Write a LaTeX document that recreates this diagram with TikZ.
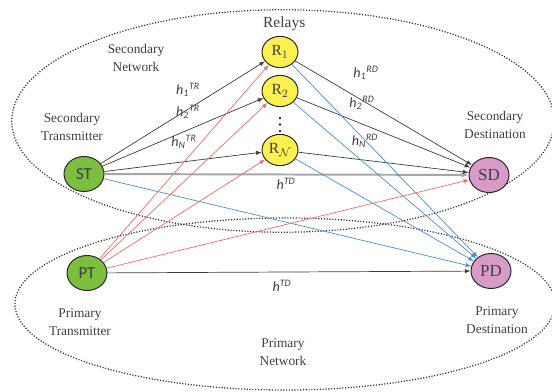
\documentclass[tikz,border=0pt]{standalone}
\usepackage{fontspec}
\setmainfont{Liberation Serif}
\setsansfont{Carlito}
\usepackage{tikz}
\usetikzlibrary{shapes.geometric, arrows.meta, positioning}
\definecolor{txtgray}{HTML}{404040}
\definecolor{lnkgray}{HTML}{3C3C3C}
\definecolor{lnkred}{HTML}{F26B6B}
\definecolor{lnkblue}{HTML}{4A8FD0}
\definecolor{tgreen}{HTML}{7DBE3F}
\definecolor{ryellow}{HTML}{FCF14E}
\definecolor{dpink}{HTML}{D89BC9}

\begin{document}
\begin{tikzpicture}[x=0.025cm, y=-0.025cm,
    term/.style={ellipse, draw=black!85, line width=0.7pt, minimum width=1cm, minimum height=0.875cm, inner sep=0pt, text=txtgray},
    relay/.style={term, fill=ryellow, minimum width=0.9cm, minimum height=0.78cm, font=\fontsize{11}{12}\selectfont},
    lbl/.style={text=txtgray, font=\fontsize{9.5}{12.5}\selectfont, align=center},
    chan/.style={text=txtgray, font=\sffamily\itshape\fontsize{10}{12}\selectfont},
    link/.style={-{Latex[length=4pt,width=3pt]}, line width=0.5pt}]
    \useasboundingbox (0,0) rectangle (552,392);%fixes page
    % =============== networks ====================
    \draw[dash pattern=on 0.8pt off 1.2pt, line width=0.9pt, black!80] (283,121) ellipse [x radius=6.78cm, y radius=2.78cm];%secondary network
    \draw[dash pattern=on 0.8pt off 1.2pt, line width=0.9pt, black!80] (285,304) ellipse [x radius=6.75cm, y radius=2.15cm];%primary network
    % =============== terminals ====================
    \node (ST) [term, fill=tgreen, font=\sffamily\fontsize{12}{12}\selectfont] at (84,174){ST};%draws ST
    \node (PT) [term, fill=tgreen, font=\sffamily\fontsize{12}{12}\selectfont] at (87,273){PT};%draws PT
    \node (SD) [term, fill=dpink, font=\fontsize{12}{12}\selectfont] at (489,175){SD};%draws SD
    \node (PD) [term, fill=dpink, font=\fontsize{12}{12}\selectfont] at (491,271){PD};%draws PD
    \node (R1) [relay] at (280,52){R$_1$};%draws R1
    \node (R2) [relay] at (280,91){R$_2$};%draws R2
    \node (RN) [relay] at (280,150){R$_{\mathcal{N}}$};%draws RN
    \fill[black!85] (280,118) circle (1.4) (280,124.5) circle (1.4) (280,131) circle (1.4);%dots between relays
    % =============== texts ====================
    \node (relays) [lbl, font=\fontsize{11}{12}\selectfont, above=0pt of R1, xshift=3pt]{Relays};
    \node (secnet) [lbl] at (136,58){Secondary\\Network};
    \node (sectx) [lbl] at (72,127){Secondary\\Transmitter};
    \node (secrx) [lbl] at (495,125){Secondary\\Destination};
    \node (pritx) [lbl] at (80,322){Primary\\Transmitter};
    \node (prinet) [lbl] at (283,352){Primary\\Network};
    \node (prirx) [lbl] at (497,320){Primary\\Destination};
    % =============== links ====================
    \draw[link, lnkgray] (ST) -- (R1);%ST to R1
    \draw[link, lnkgray] (ST) -- (R2);%ST to R2
    \draw[link, lnkgray] (ST) -- (RN);%ST to RN
    \draw[link, black!35, line width=1.4pt, -{Latex[length=5pt,width=4pt]}] (ST) -- (SD);%direct secondary link
    \draw[link, lnkblue] (ST) -- (PD);%ST interferes PD
    \draw[link, lnkgray] (R1) -- (SD);%R1 to SD
    \draw[link, lnkgray] (R2) -- (SD);%R2 to SD
    \draw[link, lnkgray] (RN) -- (SD);%RN to SD
    \draw[link, lnkblue] (R1) -- (PD);%R1 interferes PD
    \draw[link, lnkblue] (R2) -- (PD);%R2 interferes PD
    \draw[link, lnkblue] (RN) -- (PD);%RN interferes PD
    \draw[link, lnkred] (PT) -- (R1);%PT interferes R1
    \draw[link, lnkred] (PT) -- (R2);%PT interferes R2
    \draw[link, lnkred] (PT) -- (RN);%PT interferes RN
    \draw[link, lnkred] (PT) -- (SD);%PT interferes SD
    \draw[link, lnkgray] (PT) -- (PD);%direct primary link
    % =============== channel labels ====================
    \node (h1tr) [chan] at (188,90){h\textsubscript{1}\textsuperscript{TR}};
    \node (h2tr) [chan] at (188,112){h\textsubscript{2}\textsuperscript{TR}};
    \node (hntr) [chan] at (184,142){h\textsubscript{N}\textsuperscript{TR}};
    \node (hstd) [chan] at (286,184){h\textsuperscript{TD}};
    \node (h1rd) [chan] at (366,73){h\textsubscript{1}\textsuperscript{RD}};
    \node (h2rd) [chan] at (362,103){h\textsubscript{2}\textsuperscript{RD}};
    \node (hnrd) [chan] at (365,141){h\textsubscript{N}\textsuperscript{RD}};
    \node (hptd) [chan] at (282,286){h\textsuperscript{TD}};
\end{tikzpicture}
\end{document}
